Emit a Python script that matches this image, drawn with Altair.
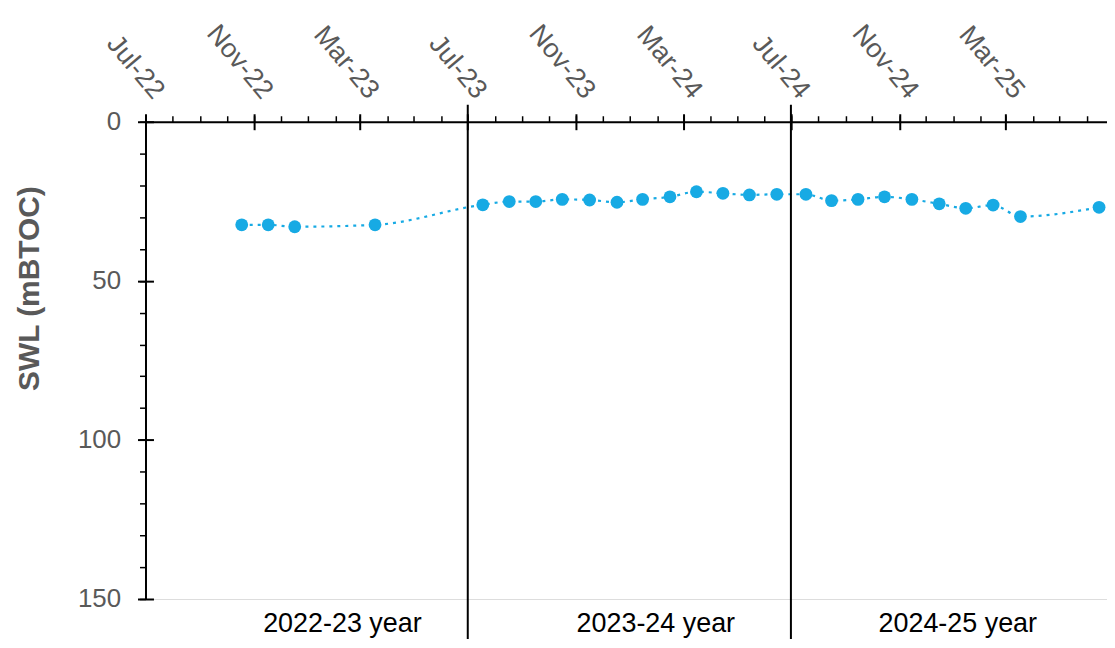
import altair as alt
import pandas as pd

# ---------------- data ----------------
dates = ["2022-10-18", "2022-11-17", "2022-12-17", "2023-03-18",
         "2023-07-18", "2023-08-17", "2023-09-16", "2023-10-16", "2023-11-16", "2023-12-17",
         "2024-01-15", "2024-02-15", "2024-03-16", "2024-04-15", "2024-05-15", "2024-06-15",
         "2024-07-18", "2024-08-16", "2024-09-15", "2024-10-15", "2024-11-15", "2024-12-16",
         "2025-01-15", "2025-02-15", "2025-03-18", "2025-06-15"]
swl = [32.4, 32.4, 33.0, 32.4,
       26.1, 25.1, 25.1, 24.4, 24.6, 25.3, 24.4, 23.6, 22.0, 22.5, 23.0, 22.8,
       22.8, 24.8, 24.4, 23.6, 24.4, 25.8, 27.2, 26.2, 29.8, 26.9]

year_labels = ["2022-23 year", "2023-24 year", "2024-25 year"]
year_label_dates = ["2023-02-09", "2024-01-30", "2025-01-06"]
year_boundaries = ["2023-07-01", "2024-07-01"]

major_months = [(2022, 7), (2022, 11), (2023, 3), (2023, 7), (2023, 11),
                (2024, 3), (2024, 7), (2024, 11), (2025, 3)]
minor_months = [(2022 + (6 + i) // 12, (6 + i) % 12 + 1) for i in range(36)]
y_major = [0, 50, 100, 150]
y_minor = list(range(0, 151, 10))

# ---------------- layout ----------------
W, H = 965, 479
BLUE = "#17aae4"
GREY = "#595959"
FONT = "Liberation Sans"

def dt(y, m, d=1):
    return alt.DateTime(year=y, month=m, date=d, utc=True)

df = pd.DataFrame({"date": dates, "swl": swl})
years_df = pd.DataFrame({"date": year_label_dates, "label": year_labels})
bounds_df = pd.DataFrame({"date": year_boundaries})

xscale = alt.Scale(type="utc", domain=[dt(2022, 7, 1), dt(2025, 6, 24)], nice=False)
yscale = alt.Scale(domain=[0, 150], reverse=True, nice=False, zero=False)

x_main = alt.X("date:T", scale=xscale, axis=alt.Axis(
    orient="top", values=[dt(y, m) for y, m in major_months], format="%b-%y",
    labelAngle=50, labelAlign="right", labelBaseline="middle",
    labelFont=FONT, labelFontSize=27, labelColor=GREY, labelPadding=19,
    labelOffset=13, labelOverlap=False, labelFlush=False, labelBound=False,
    tickSize=8, tickWidth=2, tickColor="black",
    domainColor="black", domainWidth=2, grid=False, title=None))
y_main = alt.Y("swl:Q", scale=yscale, axis=alt.Axis(
    orient="left", values=y_major, labelFont=FONT, labelFontSize=26,
    labelColor=GREY, labelPadding=17, tickSize=8, tickWidth=2,
    tickColor="black", domainColor="black", domainWidth=2, grid=False,
    title="SWL (mBTOC)", titleFont=FONT, titleFontSize=30,
    titleFontWeight="bold", titleColor=GREY, titleAngle=270,
    titleAlign="center", titleBaseline="middle", titleX=-116, titleY=167))

x_plain = alt.X("date:T", scale=xscale, axis=None)
y_plain = alt.Y("swl:Q", scale=yscale, axis=None)

line = alt.Chart(df).mark_line(
    color=BLUE, strokeWidth=2.2, strokeDash=[3, 5], interpolate="monotone"
).encode(x=x_main, y=y_main)
points = alt.Chart(df).mark_circle(size=165, color=BLUE, opacity=1).encode(
    x=x_plain, y=y_plain)

# minor ticks (outside)
minor = alt.Chart(df).mark_point(opacity=0).encode(
    x=alt.X("date:T", scale=xscale, axis=alt.Axis(
        orient="top", values=[dt(y, m) for y, m in minor_months], labels=False,
        domain=False, tickSize=6, tickWidth=1.5, tickColor="black",
        grid=False, title=None)),
    y=alt.Y("swl:Q", scale=yscale, axis=alt.Axis(
        orient="left", values=y_minor, labels=False, domain=False,
        tickSize=6, tickWidth=1.5, tickColor="black", grid=False, title=None)))

# inner half of crossing major ticks
inner = alt.Chart(df).mark_point(opacity=0).encode(
    x=alt.X("date:T", scale=xscale, axis=alt.Axis(
        orient="bottom", offset=-H, values=[dt(y, m) for y, m in major_months],
        labels=False, domain=False, tickSize=8, tickWidth=2,
        tickColor="black", grid=False, title=None)),
    y=alt.Y("swl:Q", scale=yscale, axis=alt.Axis(
        orient="right", offset=-W, values=y_major, labels=False, domain=False,
        tickSize=8, tickWidth=2, tickColor="black", grid=False, title=None)))

rules = alt.Chart(bounds_df).mark_rule(color="black", strokeWidth=2).encode(
    x=x_plain, y=alt.value(-17), y2=alt.value(H + 60))

year_text = alt.Chart(years_df).mark_text(
    font=FONT, fontSize=27, color="black", baseline="middle", align="center"
).encode(x=x_plain, y=alt.value(H + 25), text="label:N")

chart = alt.layer(line, points, minor, inner, rules, year_text).resolve_axis(
    x="independent", y="independent"
).properties(
    width=W, height=H,
    autosize=alt.AutoSizeParams(type="none"),
    padding={"left": 138, "top": 113, "right": 0, "bottom": 39},
).configure_view(stroke=None).configure(background="white")

chart.save("out.html", embed_options={"renderer": "svg", "actions": False})
